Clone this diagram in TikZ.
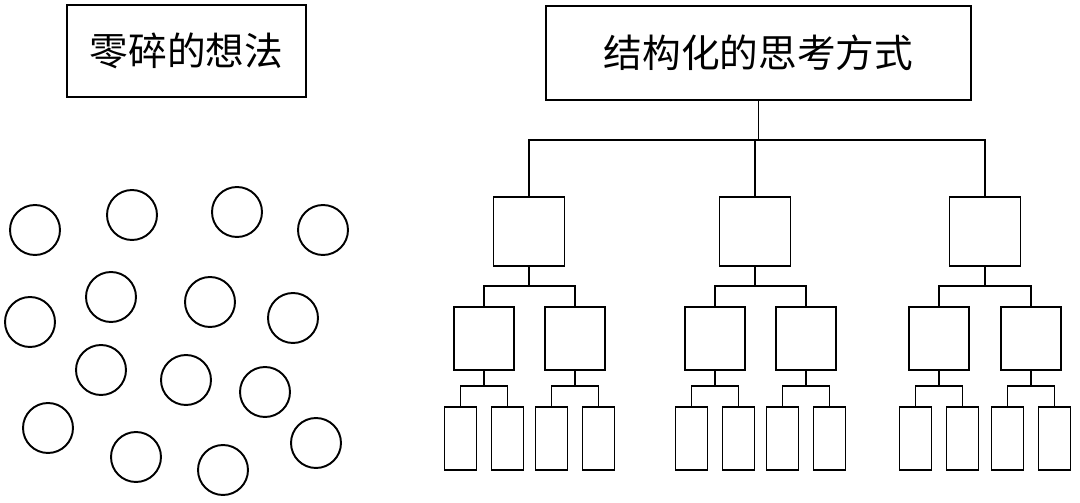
\documentclass[tikz,border=0pt]{standalone}
\usepackage{fontspec}
\newfontfamily\cjk{Noto Sans CJK SC}
\usetikzlibrary{positioning}

\begin{document}
\begin{tikzpicture}[x=0.02cm, y=-0.02cm, line width=1.1pt,
  titlebox/.style={draw, rectangle, inner sep=0pt, font=\cjk\fontsize{22}{26}\selectfont},
  dot/.style={circle, draw, minimum size=1cm, inner sep=0pt},
  midbox/.style={draw, rectangle, minimum width=1.42cm, minimum height=1.38cm},
  smallbox/.style={draw, rectangle, minimum width=1.2cm, minimum height=1.26cm},
  leafbox/.style={draw, rectangle, minimum width=0.64cm, minimum height=1.26cm}]
\useasboundingbox (0,0) rectangle (1080,503);

% titles
\node[titlebox, minimum width=4.78cm, minimum height=1.84cm] at (186.5,51) (scatter) {零碎的想法};
\node[titlebox, minimum width=8.5cm, minimum height=1.88cm] at (758.5,53) (struct) {结构化的思考方式};

% loose ideas
\foreach \cx/\cy [count=\i] in {35/230, 132/215, 237/212, 323/230, 111/297, 210/302, 293/318,
    30/322, 101/370, 186/380, 265/392, 48/428, 136/457, 223/470, 316/443}
  \node[dot] at (\cx,\cy) (c\i) {};

% tree
\coordinate (top) at (758.5,140);
\draw (struct.south) -- (top);
\foreach \px/\name in {529/a, 755/b, 985/c}
  \node[midbox] at (\px,231.5) (\name) {};
\draw (a.north) |- (top) -| (c.north);
\draw (b.north) -- (b.north |- top);

\foreach \name/\lx/\rx in {a/484/575, b/715/806, c/939/1031} {
  \node[smallbox] at (\lx,338.5) (\name l) {};
  \node[smallbox] at (\rx,338.5) (\name r) {};
  \coordinate (\name j) at (\name.south |- 0,286);
  \draw (\name.south) -- (\name j);
  \draw (\name l.north) |- (\name j) -| (\name r.north);
  \foreach \side in {l, r} {
    \node[leafbox] at ([xshift=-0.47cm]\name\side.south |- 0,438.5) (\name\side 1) {};
    \node[leafbox] at ([xshift=0.47cm]\name\side.south |- 0,438.5) (\name\side 2) {};
    \coordinate (\name\side j) at (\name\side.south |- 0,386);
    \draw (\name\side.south) -- (\name\side j);
    \draw (\name\side 1.north) |- (\name\side j) -| (\name\side 2.north);
  }
}

\end{tikzpicture}
\end{document}
